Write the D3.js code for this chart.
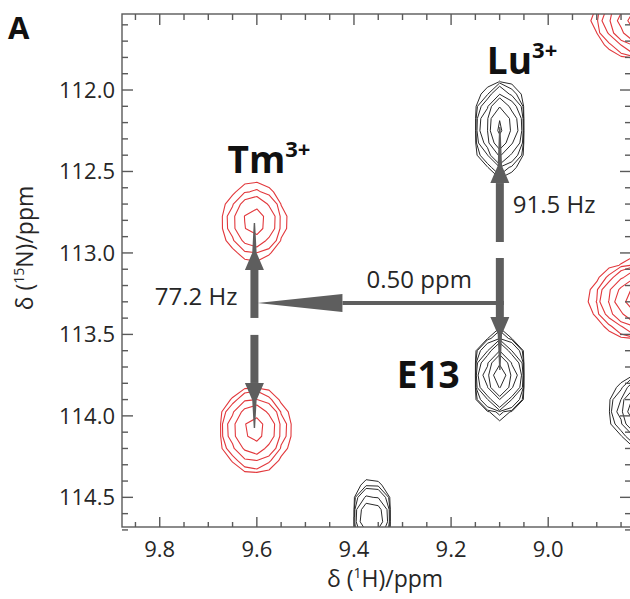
<!DOCTYPE html>
<html><head><meta charset="utf-8">
<script src="https://cdn.jsdelivr.net/npm/d3@7"></script>
<style>
body{margin:0;background:#fff;}
text{font-family:"Open Sans", sans-serif;}
</style></head><body>
<svg id="chart" width="630" height="599"></svg>
<script>
// ---------- data ----------
const xTicks = [9.8, 9.6, 9.4, 9.2, 9.0];
const yTicks = [112.0, 112.5, 113.0, 113.5, 114.0, 114.5];
const xDomain = [9.8777, 8.8295];
const yDomain = [111.5335, 114.682];

// Tm3+ spectrum (red) peaks
const redX   = [9.605, 9.605, 8.790, 8.785];
const redY   = [112.808, 114.08, 113.287, 111.571];
const redWx  = [0.033, 0.033, 0.0495, 0.0495];
const redWyU = [0.122, 0.117, 0.101, 0.101];
const redWyD = [0.122, 0.125, 0.101, 0.101];
const redH   = [3.46, 4.4, 6.0, 6.0];

// Lu3+ spectrum (black) peaks
const blackX   = [9.0975, 9.0996, 9.3635, 8.78];
const blackY   = [112.227, 113.762, 114.624, 113.963];
const blackWx  = [0.0186, 0.0175, 0.0153, 0.037];
const blackWyU = [0.112, 0.100, 0.0975, 0.098];
const blackWyD = [0.120, 0.085, 0.0975, 0.098];
const blackH   = [6.2, 7.6, 5.3, 6.0];

// vertical arrows (ppm): x, tail, head base, tip (peak)
const arrowX    = [9.605, 9.605, 9.0996, 9.0996];
const arrowFrom = [113.399, 113.503, 112.933, 113.031];
const arrowHead = [113.104, 113.798, 112.571, 113.393];
const arrowTo   = [112.816, 114.074, 112.227, 113.718];

// horizontal arrow (0.50 ppm)
const hArrowY = 113.307;
const hArrowFrom = 9.0996, hArrowHead = 9.4237, hArrowTo = 9.5989;

// annotations
const noteText = ["77.2 Hz", "91.5 Hz", "0.50 ppm"];
const noteX    = [9.640, 9.0728, 9.374];
const noteY    = [113.32, 112.755, 113.2155];
const noteAnchor = ["end", "start", "start"];

const labelText = ["Tm", "Lu", "E13"];
const labelSup  = ["3+", "3+", ""];
const labelX    = [9.6604, 9.1264, 9.312];
const labelY    = [112.5095, 111.9018, 113.829];

// ---------- layout ----------
const svg = d3.select("#chart");
const m = {left:122, top:14, right:631, bottom:527};
const xS = d3.scaleLinear().domain(xDomain).range([m.left, m.right]);
const yS = d3.scaleLinear().domain(yDomain).range([m.top, m.bottom]);

svg.append("defs").append("clipPath").attr("id","clip")
  .append("rect").attr("x",m.left).attr("y",m.top)
  .attr("width",m.right-m.left).attr("height",m.bottom-m.top);

// ---------- contours ----------
const gx0 = 8.50, gx1 = 10.0, gdx = 0.025;
const gy0 = 111.2, gy1 = 115.0, gdy = 0.075;
const nx = Math.round((gx1-gx0)/gdx)+1, ny = Math.round((gy1-gy0)/gdy)+1;
const levels = d3.range(0, 10).map(t => Math.exp(t));

function field(PX, PY, WX, WYU, WYD, H){
  const v = new Float64Array(nx*ny);
  for(let j=0;j<ny;j++){
    const y = gy0 + j*gdy;
    for(let i=0;i<nx;i++){
      const x = gx0 + i*gdx;
      let s = 0;
      for(let p=0;p<PX.length;p++){
        const wy = y < PY[p] ? WYU[p] : WYD[p];
        const r2 = ((x-PX[p])/WX[p])**2 + ((y-PY[p])/wy)**2;
        s += Math.exp(H[p] - r2);
      }
      v[j*nx+i] = s;
    }
  }
  return v;
}
const proj = d3.geoTransform({point:function(x,y){
  this.stream.point(xS(gx0+(x-0.5)*gdx), yS(gy0+(y-0.5)*gdy));
}});
const gpath = d3.geoPath(proj);
const cgen = d3.contours().size([nx,ny]).thresholds(levels);

const gC = svg.append("g").attr("clip-path","url(#clip)");
function drawSpectrum(vals, color, w){
  gC.append("g").selectAll("path").data(cgen(Array.from(vals))).join("path")
    .attr("d", gpath).attr("fill","none").attr("stroke",color)
    .attr("stroke-width",w).attr("stroke-linejoin","round");
}
drawSpectrum(field(redX,redY,redWx,redWyU,redWyD,redH), "#e2383c", 1.1);
drawSpectrum(field(blackX,blackY,blackWx,blackWyU,blackWyD,blackH), "#2a2a2a", 1.0);

// ---------- arrows ----------
const arrowColor = "#5e5e5e";
const gA = svg.append("g");
arrowX.forEach((ax,i)=>{
  const x = xS(ax), y0 = yS(arrowFrom[i]), yb = yS(arrowHead[i]), yt = yS(arrowTo[i]);
  const dir = yt < yb ? -1 : 1;
  gA.append("line").attr("x1",x).attr("x2",x).attr("y1",y0).attr("y2",yb)
    .attr("stroke",arrowColor).attr("stroke-width",8);
  const hp = [[x-9.5,yb],[x-2.2,yb+dir*17],[x-0.7,yt],[x+0.7,yt],[x+2.2,yb+dir*17],[x+9.5,yb]];
  gA.append("path").attr("d","M"+hp.map(p=>p.join(",")).join("L")+"Z").attr("fill",arrowColor);
});
{
  const y = yS(hArrowY), xf = xS(hArrowFrom), xh = xS(hArrowHead), xt = xS(hArrowTo);
  gA.append("line").attr("x1",xf+4).attr("x2",xh).attr("y1",y).attr("y2",y)
    .attr("stroke",arrowColor).attr("stroke-width",4);
  gA.append("path").attr("d",`M${xh},${y-9}L${xt},${y}L${xh},${y+9}Z`).attr("fill",arrowColor);
}

// ---------- axes ----------
const axisColor = "#5a5a5a";
const gAx = svg.append("g").attr("stroke",axisColor).attr("stroke-width",1.4);
gAx.append("rect").attr("x",m.left).attr("y",m.top).attr("width",m.right-m.left).attr("height",m.bottom-m.top)
  .attr("fill","none");
const xMinor = d3.range(9.85, 8.82, -0.05).map(v=>+v.toFixed(2));
const yMinor = d3.range(111.6, 114.7, 0.1).map(v=>+v.toFixed(1));
const isMajX = v => xTicks.some(t=>Math.abs(t-v)<1e-6);
const isMajY = v => yTicks.some(t=>Math.abs(t-v)<1e-6);
xMinor.forEach(v=>{
  const x = xS(v), L = isMajX(v) ? 10 : 5;
  gAx.append("line").attr("x1",x).attr("x2",x).attr("y1",m.bottom).attr("y2",m.bottom-L);
  gAx.append("line").attr("x1",x).attr("x2",x).attr("y1",m.top).attr("y2",m.top+(isMajX(v)?11:6));
});
yMinor.forEach(v=>{
  const y = yS(v), L = isMajY(v) ? 11 : 6;
  gAx.append("line").attr("x1",m.left).attr("x2",m.left+L).attr("y1",y).attr("y2",y);
  gAx.append("line").attr("x1",m.right).attr("x2",m.right-L).attr("y1",y).attr("y2",y);
});

const tickColor = "#262626";
svg.append("g").selectAll("text").data(xTicks).join("text")
  .attr("x",d=>xS(d)).attr("y",557).attr("text-anchor","middle")
  .attr("font-size",22).attr("fill",tickColor).text(d=>d.toFixed(1));
svg.append("g").selectAll("text").data(yTicks).join("text")
  .attr("x",115).attr("y",d=>yS(d)).attr("dy","0.36em").attr("text-anchor","end")
  .attr("font-size",22).attr("fill",tickColor).text(d=>d.toFixed(1));

// axis titles
const xt = svg.append("text").attr("x",385).attr("y",587).attr("text-anchor","middle")
  .attr("font-size",23).attr("fill",tickColor);
xt.append("tspan").text("δ (");
xt.append("tspan").attr("font-size",14).attr("dy",-9).text("1");
xt.append("tspan").attr("dy",9).text("H)/ppm");

const yt = svg.append("text").attr("transform","translate(33,248) rotate(-90)").attr("text-anchor","middle")
  .attr("font-size",23).attr("fill",tickColor);
yt.append("tspan").text("δ (");
yt.append("tspan").attr("font-size",14).attr("dy",-9).text("15");
yt.append("tspan").attr("dy",9).text("N)/ppm");

// panel letter
svg.append("text").attr("x",8).attr("y",39).attr("font-size",31).attr("font-weight","bold")
  .attr("fill","#111").text("A");

// annotations
noteText.forEach((t,i)=>{
  svg.append("text").attr("x",xS(noteX[i])).attr("y",yS(noteY[i])).attr("text-anchor",noteAnchor[i])
    .attr("font-size",24).attr("fill",tickColor).text(t);
});
labelText.forEach((t,i)=>{
  const tx = svg.append("text").attr("x",xS(labelX[i])).attr("y",yS(labelY[i]))
    .attr("font-size",37).attr("font-weight","bold").attr("fill","#111");
  tx.append("tspan").text(t);
  if(labelSup[i]) tx.append("tspan").attr("font-size",22).attr("dy",-16).text(labelSup[i]);
});
</script>
</body></html>
